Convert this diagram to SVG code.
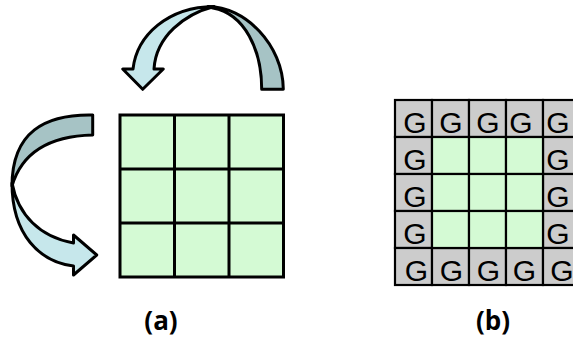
<svg xmlns="http://www.w3.org/2000/svg" width="573" height="338" viewBox="0 0 573 338">
  <style>
    .cell { fill: #d4fad4; }
    .ghost { fill: #cccccc; stroke: #000; stroke-width: 2.2; }
    .inner { fill: #d4fad4; stroke: #000; stroke-width: 2.2; }
    .gridline { stroke: #000; stroke-width: 3; fill: none; }
    .band-back { fill: #a6c3c5; stroke: #000; stroke-width: 3; stroke-linejoin: round; }
    .band-front { fill: #c6e7eb; stroke: #000; stroke-width: 3; stroke-linejoin: round; }
    .g { font-family: "Liberation Sans", Arial, sans-serif; font-size: 30px; text-anchor: middle; fill: #000; }
    .caption { font-family: "Open Sans", "DejaVu Sans", sans-serif; font-weight: bold; font-size: 26px; text-anchor: middle; fill: #000; }
  </style>

  <!-- (a) 3x3 block -->
  <g id="block-a">
    <rect x="120" y="115" width="163.5" height="162" class="cell"/>
    <path class="gridline" d="M120 115 H283.5 V277 H120 Z M174.5 115 V277 M229 115 V277 M120 169 H283.5 M120 223 H283.5"/>
  </g>

  <!-- curved arrows -->
  <g id="arrows">
    <g id="arrow-top">
      <path class="band-back" d="M208 6.5 C245 6.5 283 45 283.3 89.3 L261.7 89.3 C261.7 50 245 14 213 8 Z"/>
      <path class="band-front" d="M133 69 C137 35 168 7 214 6.5 C185 14 156 36 154 69 L163.3 69 L142.7 89.3 L122.7 69 Z"/>
    </g>
    <g id="arrow-left">
      <path class="band-back" d="M92.7 115 L92.7 135 C50 136 22 152 12 186 C12 132 45 114 92.7 115 Z"/>
      <path class="band-front" d="M12 183 C18 215 40 237 73.5 243 L73.5 235 L96.7 255 L73.5 275 L73.5 266 C40 262 12 235 12 183 Z"/>
    </g>
  </g>

  <!-- (b) block with ghost border -->
  <g id="block-b">
    <g id="ghost-row-top">
      <rect x="395" y="100" width="37" height="37" class="ghost"/>
      <rect x="432" y="100" width="37" height="37" class="ghost"/>
      <rect x="469" y="100" width="37" height="37" class="ghost"/>
      <rect x="506" y="100" width="37" height="37" class="ghost"/>
      <rect x="543" y="100" width="37" height="37" class="ghost"/>
    </g>
    <g id="ghost-col-left">
      <rect x="395" y="137" width="37" height="37" class="ghost"/>
      <rect x="395" y="174" width="37" height="37" class="ghost"/>
      <rect x="395" y="211" width="37" height="37" class="ghost"/>
    </g>
    <g id="ghost-col-right">
      <rect x="543" y="137" width="37" height="37" class="ghost"/>
      <rect x="543" y="174" width="37" height="37" class="ghost"/>
      <rect x="543" y="211" width="37" height="37" class="ghost"/>
    </g>
    <g id="ghost-row-bottom">
      <rect x="395" y="248" width="37" height="37" class="ghost"/>
      <rect x="432" y="248" width="37" height="37" class="ghost"/>
      <rect x="469" y="248" width="37" height="37" class="ghost"/>
      <rect x="506" y="248" width="37" height="37" class="ghost"/>
      <rect x="543" y="248" width="37" height="37" class="ghost"/>
    </g>
    <g id="interior">
      <rect x="432" y="137" width="37" height="37" class="inner"/>
      <rect x="469" y="137" width="37" height="37" class="inner"/>
      <rect x="506" y="137" width="37" height="37" class="inner"/>
      <rect x="432" y="174" width="37" height="37" class="inner"/>
      <rect x="469" y="174" width="37" height="37" class="inner"/>
      <rect x="506" y="174" width="37" height="37" class="inner"/>
      <rect x="432" y="211" width="37" height="37" class="inner"/>
      <rect x="469" y="211" width="37" height="37" class="inner"/>
      <rect x="506" y="211" width="37" height="37" class="inner"/>
    </g>
    <g id="ghost-labels">
      <text class="g" x="415" y="132.5">G</text>
      <text class="g" x="451" y="132.5">G</text>
      <text class="g" x="488" y="132.5">G</text>
      <text class="g" x="521" y="132.5">G</text>
      <text class="g" x="558" y="132.5">G</text>
      <text class="g" x="415" y="169.5">G</text>
      <text class="g" x="558" y="169.5">G</text>
      <text class="g" x="415" y="206.5">G</text>
      <text class="g" x="558" y="206.5">G</text>
      <text class="g" x="415" y="243.5">G</text>
      <text class="g" x="558" y="243.5">G</text>
      <text class="g" x="416.5" y="280.5">G</text>
      <text class="g" x="451.5" y="280.5">G</text>
      <text class="g" x="488.5" y="280.5">G</text>
      <text class="g" x="524.5" y="280.5">G</text>
      <text class="g" x="562" y="280.5">G</text>
    </g>
  </g>

  <!-- captions -->
  <text class="caption" x="161" y="330">(a)</text>
  <text class="caption" x="493" y="330">(b)</text>
</svg>
